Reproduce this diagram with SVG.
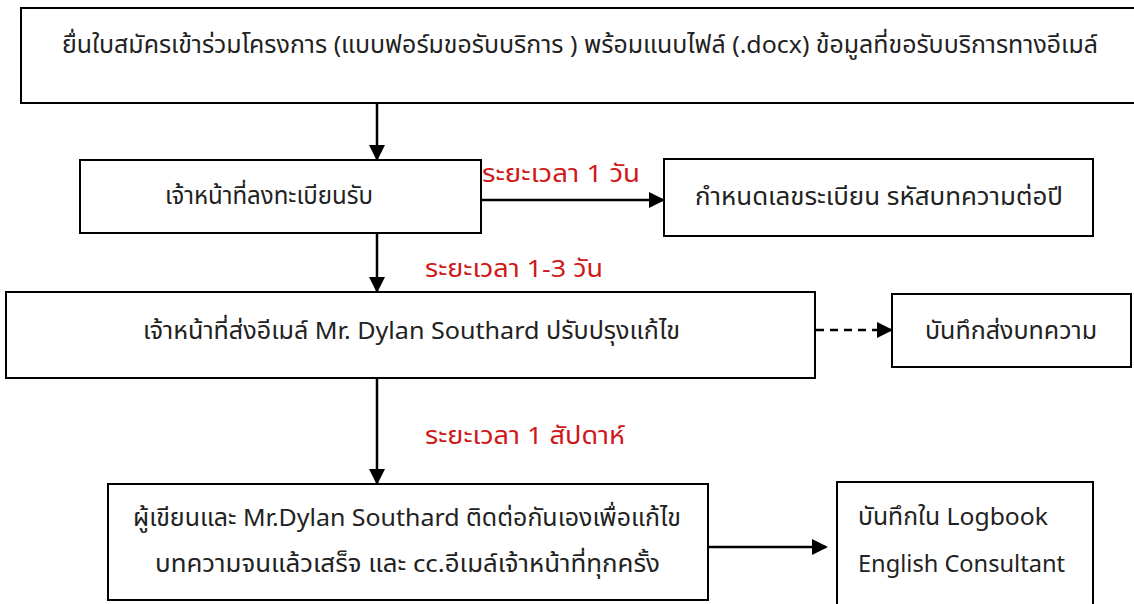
<svg xmlns="http://www.w3.org/2000/svg" width="1134" height="604" viewBox="0 0 1134 604">
<style>
.box{fill:#fff;stroke:#000;stroke-width:2}
.t{font-family:"Noto Sans Thai","Noto Sans","DejaVu Sans",sans-serif;font-size:24px;fill:#222}
.r{font-family:"Noto Sans Thai","Noto Sans","DejaVu Sans",sans-serif;font-size:24px;fill:#d01818}
.c{fill:none;stroke:#000;stroke-width:2.5}
</style>
<defs>
<marker id="ahv" markerWidth="16" markerHeight="16" refX="14" refY="8" orient="auto" markerUnits="userSpaceOnUse" viewBox="0 0 16 16">
<path d="M0,0 L16,8 L0,16 Z" fill="#000"/>
</marker>
</defs>
<rect width="1134" height="604" fill="#fff"/>
<g id="connectors">
<line class="c" x1="377" y1="103" x2="377" y2="159" marker-end="url(#ahv)"/>
<line class="c" x1="481" y1="200" x2="663" y2="200" marker-end="url(#ahv)"/>
<line class="c" x1="377" y1="234" x2="377" y2="291" marker-end="url(#ahv)"/>
<line class="c" x1="816" y1="330" x2="891" y2="330" stroke-dasharray="8,6" marker-end="url(#ahv)"/>
<line class="c" x1="377" y1="378" x2="377" y2="483" marker-end="url(#ahv)"/>
<line class="c" x1="708" y1="547" x2="826" y2="547" marker-end="url(#ahv)"/>
<text class="r" x="482" y="182" textLength="158" lengthAdjust="spacingAndGlyphs">ระยะเวลา 1 วัน</text>
<text class="r" x="425" y="277" textLength="178" lengthAdjust="spacingAndGlyphs">ระยะเวลา 1-3 วัน</text>
<text class="r" x="425" y="444" textLength="200" lengthAdjust="spacingAndGlyphs">ระยะเวลา 1 สัปดาห์</text>
</g>
<g id="n1">
<rect class="box" x="21" y="8" width="1125" height="95"/>
<text class="t" x="62" y="53" textLength="1036" lengthAdjust="spacingAndGlyphs">ยื่นใบสมัครเข้าร่วมโครงการ (แบบฟอร์มขอรับบริการ ) พร้อมแนบไฟล์ (.docx) ข้อมูลที่ขอรับบริการทางอีเมล์</text>
</g>
<g id="n2">
<rect class="box" x="80" y="160" width="401" height="73"/>
<text class="t" x="165" y="204" textLength="208" lengthAdjust="spacingAndGlyphs">เจ้าหน้าที่ลงทะเบียนรับ</text>
</g>
<g id="n3">
<rect class="box" x="664" y="159" width="429" height="77"/>
<text class="t" x="695" y="205" textLength="368" lengthAdjust="spacingAndGlyphs">กำหนดเลขระเบียน รหัสบทความต่อปี</text>
</g>
<g id="n4">
<rect class="box" x="6" y="292" width="809" height="86"/>
<text class="t" x="143" y="339" textLength="537" lengthAdjust="spacingAndGlyphs">เจ้าหน้าที่ส่งอีเมล์ Mr. Dylan Southard ปรับปรุงแก้ไข</text>
</g>
<g id="n5">
<rect class="box" x="892" y="294" width="239" height="73"/>
<text class="t" x="925" y="339" textLength="172" lengthAdjust="spacingAndGlyphs">บันทึกส่งบทความ</text>
</g>
<g id="n6">
<rect class="box" x="108" y="484" width="600" height="116"/>
<text class="t" x="133" y="526" textLength="548" lengthAdjust="spacingAndGlyphs">ผู้เขียนและ Mr.Dylan Southard ติดต่อกันเองเพื่อแก้ไข</text>
<text class="t" x="155" y="572" textLength="505" lengthAdjust="spacingAndGlyphs">บทความจนแล้วเสร็จ และ cc.อีเมล์เจ้าหน้าที่ทุกครั้ง</text>
</g>
<g id="n7">
<rect class="box" x="837" y="482" width="256" height="140"/>
<text class="t" x="858" y="525" textLength="190" lengthAdjust="spacingAndGlyphs">บันทึกใน Logbook</text>
<text class="t" x="858" y="572" textLength="207" lengthAdjust="spacingAndGlyphs">English Consultant</text>
</g>
</svg>
